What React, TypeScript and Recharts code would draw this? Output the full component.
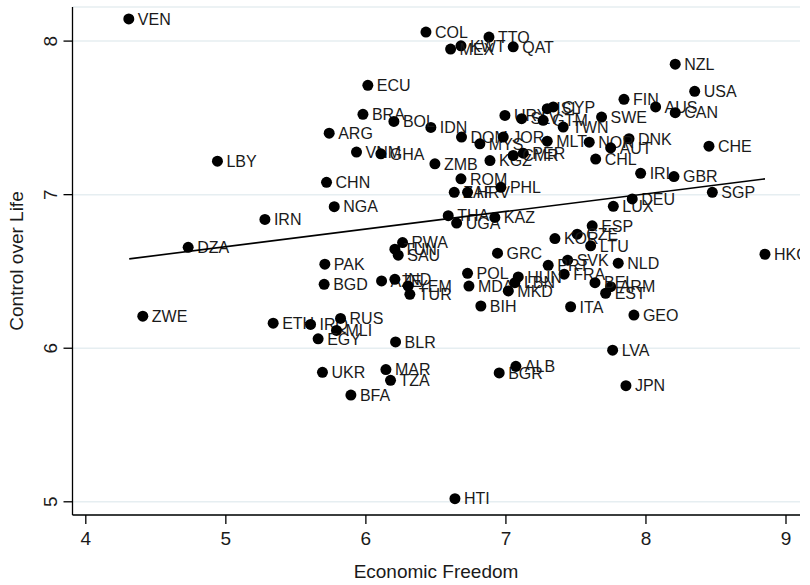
import React from 'react';
import { ScatterChart, Scatter, XAxis, YAxis, CartesianGrid, Label } from 'recharts';

const countries = [
  'VEN','COL','TTO','KWT','MEX','QAT','NZL','USA','FIN','AUS','CAN','SWE','DNK','NOR','AUT','CHE','CHL',
  'URY','SLV','ISL','CYP','GTM','TWN','MLT','IDN','DOM','MYS','JOR','KGZ','PER','CMR',
  'ECU','BRA','BOL','ARG','VNM','GHA','ZMB','CHN','NGA','LBY','IRN','DZA','ZWE',
  'ROM','ZAF','HRV','PHL','THA','UGA','KAZ','RWA','TUN','SAU','GRC','AZE','IND','YEM','TUR',
  'POL','MDA','BIH','PAK','BGD','ETH','IRQ','RUS','MLI','EGY','BLR','UKR','MAR','TZA','BFA',
  'BGR','ALB','HTI','LVA','JPN','GEO','ITA','MKD','EST','ARM','LUX','ESP','CZE','KOR','LTU',
  'NLD','SVK','PRT','FRA','BEL','HUN','LBN','IRL','GBR','SGP','DEU','HKG'
];

const economicFreedom = [
  4.307, 6.429, 6.879, 6.679, 6.605, 7.052, 8.209, 8.348, 7.843, 8.069, 8.209, 7.683, 7.879, 7.595, 7.748, 8.450, 7.641,
  6.993, 7.112, 7.295, 7.338, 7.266, 7.409, 7.295, 6.464, 6.683, 6.814, 6.981, 6.886, 7.124, 7.052,
  6.014, 5.979, 6.200, 5.738, 5.933, 6.107, 6.493, 5.719, 5.774, 4.940, 5.279, 4.731, 4.407,
  6.679, 6.631, 6.726, 6.964, 6.588, 6.648, 6.921, 6.262, 6.207, 6.231, 6.940, 6.112, 6.207, 6.302, 6.314,
  6.726, 6.736, 6.821, 5.707, 5.702, 5.338, 5.605, 5.819, 5.790, 5.659, 6.212, 5.690, 6.143, 6.176, 5.893,
  6.952, 7.071, 6.636, 7.762, 7.857, 7.914, 7.462, 7.017, 7.712, 7.748, 7.767, 7.616, 7.509, 7.350, 7.605,
  7.802, 7.441, 7.302, 7.416, 7.636, 7.088, 7.064, 7.962, 8.200, 8.474, 7.902, 8.850
];

const controlOverLife = [
  8.144, 8.059, 8.026, 7.969, 7.948, 7.963, 7.850, 7.673, 7.621, 7.571, 7.534, 7.505, 7.364, 7.342, 7.305, 7.316, 7.232,
  7.516, 7.495, 7.560, 7.571, 7.484, 7.440, 7.348, 7.438, 7.375, 7.331, 7.375, 7.222, 7.270, 7.255,
  7.712, 7.523, 7.477, 7.400, 7.277, 7.266, 7.201, 7.080, 6.922, 7.218, 6.839, 6.657, 6.209,
  7.103, 7.015, 7.015, 7.048, 6.863, 6.815, 6.852, 6.688, 6.645, 6.606, 6.619, 6.438, 6.449, 6.405, 6.351,
  6.488, 6.405, 6.275, 6.547, 6.416, 6.163, 6.155, 6.194, 6.116, 6.061, 6.041, 5.843, 5.861, 5.791, 5.695,
  5.839, 5.882, 5.020, 5.987, 5.756, 6.216, 6.270, 6.373, 6.358, 6.401, 6.924, 6.797, 6.743, 6.714, 6.667,
  6.554, 6.573, 6.540, 6.482, 6.427, 6.464, 6.427, 7.139, 7.118, 7.015, 6.972, 6.612
];

const xTicks = [4, 5, 6, 7, 8, 9];
const yTicks = [5, 6, 7, 8];

// fitted line endpoints
const fitX = [4.31, 8.85];
const fitY = [6.582, 7.103];

const points = countries.map((name, i) => ({ name, x: economicFreedom[i], y: controlOverLife[i] }));
const fitData = fitX.map((x, i) => ({ x, y: fitY[i] }));

const FONT = '"Liberation Sans", Arial, Helvetica, sans-serif';

const Dot = (props: any) => {
  const { cx, cy, payload } = props;
  if (cx == null || cy == null) return null;
  return (
    <g>
      <circle cx={cx} cy={cy} r={5.5} fill="#000" />
      <text x={cx + 9} y={cy} dy="0.36em" fontSize={16} fill="#1a1a1a" fontFamily={FONT}>
        {payload.name}
      </text>
    </g>
  );
};

const YTick = (props: any) => {
  const { x, y, payload } = props;
  const tx = x - 4;
  return (
    <text
      x={tx}
      y={y}
      transform={`rotate(-90, ${tx}, ${y})`}
      textAnchor="middle"
      fontSize={19}
      fill="#1a1a1a"
      fontFamily={FONT}
    >
      {payload.value}
    </text>
  );
};

const XTick = (props: any) => {
  const { x, y, payload } = props;
  return (
    <text x={x} y={y} dy="1.0em" textAnchor="middle" fontSize={19} fill="#1a1a1a" fontFamily={FONT}>
      {payload.value}
    </text>
  );
};

export default function App() {
  return (
    <div style={{ position: 'absolute', left: 0, top: 0, background: '#fff' }}>
      <ScatterChart width={810} height={585} margin={{ top: 7, right: 10, bottom: 0, left: 0 }}>
        <CartesianGrid horizontal vertical={false} stroke="#e6eef1" strokeWidth={1.5} />
        <XAxis
          type="number"
          dataKey="x"
          domain={[3.905, 9.1]}
          ticks={xTicks}
          allowDataOverflow
          height={70}
          tickSize={9}
          tick={<XTick />}
          axisLine={{ stroke: '#000', strokeWidth: 1.3 }}
          tickLine={{ stroke: '#000', strokeWidth: 1.3 }}
        >
          <Label
            content={() => (
              <text x={436} y={571} dy="0.35em" textAnchor="middle" fontSize={19} fill="#1a1a1a" fontFamily={FONT}>
                Economic Freedom
              </text>
            )}
          />
        </XAxis>
        <YAxis
          type="number"
          dataKey="y"
          domain={[4.914, 8.222]}
          ticks={yTicks}
          allowDataOverflow
          width={72.5}
          tickSize={9}
          tick={<YTick />}
          axisLine={{ stroke: '#000', strokeWidth: 1.3 }}
          tickLine={{ stroke: '#000', strokeWidth: 1.3 }}
        >
          <Label
            content={() => (
              <text
                x={16}
                y={261}
                transform="rotate(-90, 16, 261)"
                dy="0.35em"
                textAnchor="middle"
                fontSize={19}
                fill="#1a1a1a"
                fontFamily={FONT}
              >
                Control over Life
              </text>
            )}
          />
        </YAxis>
        <Scatter data={points} shape={<Dot />} isAnimationActive={false} />
        <Scatter
          data={fitData}
          line={{ stroke: '#000', strokeWidth: 1.6 }}
          shape={() => <g />}
          isAnimationActive={false}
        />
      </ScatterChart>
    </div>
  );
}
